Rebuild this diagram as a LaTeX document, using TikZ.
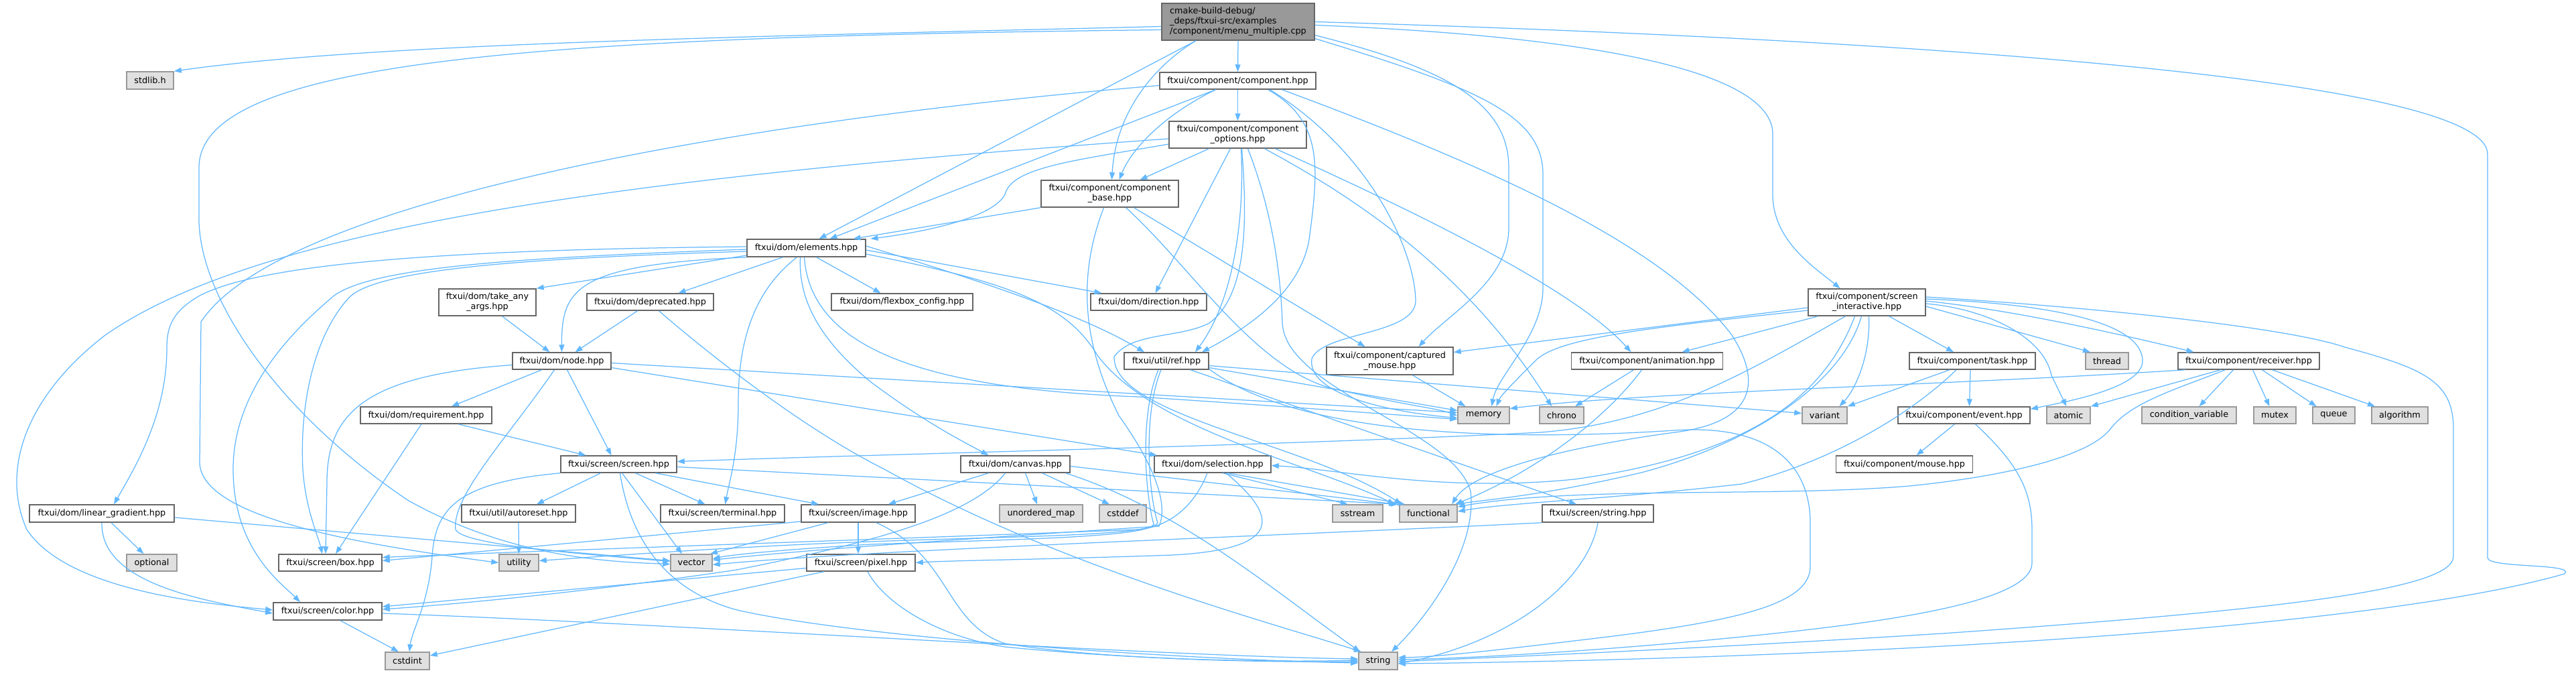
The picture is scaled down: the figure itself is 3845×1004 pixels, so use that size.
\documentclass[tikz,border=0pt]{standalone}
\usepackage{fontspec}
\setmainfont{DejaVu Sans}
\usetikzlibrary{arrows.meta}
\definecolor{eblue}{HTML}{63B8FF}
\definecolor{bdc}{HTML}{666666}
\definecolor{sysbd}{HTML}{999999}
\definecolor{sysfill}{HTML}{E0E0E0}
\definecolor{mainfill}{HTML}{999999}
\newcommand{\nfnt}{\fontsize{12.8pt}{15pt}\selectfont}
\tikzset{
  nd/.style={draw=bdc, fill=white, line width=1.5pt, inner sep=0pt, align=center, font=\nfnt, text=black},
  sys/.style={nd, draw=sysbd, fill=sysfill},
  edg/.style={draw=eblue, line width=1.25pt, -{Triangle[length=11pt,width=8pt]}},
}
\begin{document}
\begin{tikzpicture}[x=1pt,y=-1pt]
\useasboundingbox (0,0) rectangle (3845,1004);
% ---------- nodes ----------
\node[nd, fill=mainfill, align=left, minimum width=228pt, minimum height=55pt] (nmain) at (1848,32.5) {cmake-build-debug/\\\_deps/ftxui-src/examples\\/component/menu\_multiple.cpp};
\node[sys, minimum width=70pt, minimum height=26pt] (nstdlib) at (224,120) {stdlib.h};
\node[nd, minimum width=233pt, minimum height=25pt] (ncomp) at (1847.5,120.5) {ftxui/component/component.hpp};
\node[nd, minimum width=205pt, minimum height=40pt] (nopts) at (1847.5,201) {ftxui/component/component\\\_options.hpp};
\node[nd, minimum width=205pt, minimum height=40pt] (nbase) at (1656.5,289) {ftxui/component/component\\\_base.hpp};
\node[nd, minimum width=177pt, minimum height=26pt] (nelem) at (1203.5,370) {ftxui/dom/elements.hpp};
\node[nd, minimum width=145pt, minimum height=40pt] (ntake) at (727.5,451) {ftxui/dom/take\_any\\\_args.hpp};
\node[nd, minimum width=189pt, minimum height=25pt] (ndepr) at (970.5,450.5) {ftxui/dom/deprecated.hpp};
\node[nd, minimum width=211pt, minimum height=25pt] (nflex) at (1346.5,450.5) {ftxui/dom/flexbox\_config.hpp};
\node[nd, minimum width=173pt, minimum height=25pt] (ndir) at (1714.5,450.5) {ftxui/dom/direction.hpp};
\node[nd, minimum width=175pt, minimum height=40pt] (nsi) at (2786.5,451) {ftxui/component/screen\\\_interactive.hpp};
\node[nd, minimum width=189pt, minimum height=41pt] (ncapt) at (2074.5,538.5) {ftxui/component/captured\\\_mouse.hpp};
\node[nd, minimum width=126pt, minimum height=25pt] (nref) at (1741,538.5) {ftxui/util/ref.hpp};
\node[nd, minimum width=226pt, minimum height=25pt] (nanim) at (2458.5,538.5) {ftxui/component/animation.hpp};
\node[nd, minimum width=188pt, minimum height=25pt] (ntask) at (2944,538.5) {ftxui/component/task.hpp};
\node[sys, minimum width=64pt, minimum height=25pt] (nthrd) at (3145,538.5) {thread};
\node[nd, minimum width=211pt, minimum height=25pt] (nrecv) at (3356.5,538.5) {ftxui/component/receiver.hpp};
\node[nd, minimum width=147pt, minimum height=25pt] (nnode) at (838.5,538.5) {ftxui/dom/node.hpp};
\node[nd, minimum width=196pt, minimum height=25pt] (nreq) at (636,619.5) {ftxui/dom/requirement.hpp};
\node[sys, minimum width=77pt, minimum height=25pt] (nmem) at (2214.5,619.5) {memory};
\node[sys, minimum width=66pt, minimum height=25pt] (nchrono) at (2331,619.5) {chrono};
\node[sys, minimum width=67pt, minimum height=25pt] (nvariant) at (2723.5,619.5) {variant};
\node[nd, minimum width=197pt, minimum height=25pt] (nevent) at (2931.5,619.5) {ftxui/component/event.hpp};
\node[sys, minimum width=65pt, minimum height=25pt] (natomic) at (3087.5,619.5) {atomic};
\node[sys, minimum width=141pt, minimum height=25pt] (ncondv) at (3267.5,619.5) {condition\_variable};
\node[sys, minimum width=63pt, minimum height=25pt] (nmutex) at (3395.5,619.5) {mutex};
\node[sys, minimum width=63pt, minimum height=25pt] (nqueue) at (3483.5,619.5) {queue};
\node[sys, minimum width=84pt, minimum height=25pt] (nalgo) at (3582,619.5) {algorithm};
\node[nd, minimum width=173pt, minimum height=25pt] (nscr) at (923.5,692.5) {ftxui/screen/screen.hpp};
\node[nd, minimum width=163pt, minimum height=25pt] (ncanvas) at (1515.5,692.5) {ftxui/dom/canvas.hpp};
\node[nd, minimum width=174pt, minimum height=25pt] (nsel) at (1810,692.5) {ftxui/dom/selection.hpp};
\node[nd, minimum width=204pt, minimum height=25pt] (nmouse) at (2842.5,692.5) {ftxui/component/mouse.hpp};
\node[nd, minimum width=216pt, minimum height=26pt] (nlgrad) at (152,766) {ftxui/dom/linear\_gradient.hpp};
\node[nd, minimum width=170pt, minimum height=26pt] (nautor) at (774,766) {ftxui/util/autoreset.hpp};
\node[nd, minimum width=185pt, minimum height=26pt] (nterm) at (1078.5,766) {ftxui/screen/terminal.hpp};
\node[nd, minimum width=170pt, minimum height=26pt] (nimage) at (1281,766) {ftxui/screen/image.hpp};
\node[sys, minimum width=124pt, minimum height=26pt] (numap) at (1554,766) {unordered\_map};
\node[sys, minimum width=70pt, minimum height=26pt] (ncstddef) at (1676,766) {cstddef};
\node[sys, minimum width=75pt, minimum height=26pt] (nsstream) at (2026.5,766) {sstream};
\node[sys, minimum width=86pt, minimum height=26pt] (nfunc) at (2132,766) {functional};
\node[nd, minimum width=166pt, minimum height=26pt] (nstrh) at (2385,766) {ftxui/screen/string.hpp};
\node[sys, minimum width=75pt, minimum height=25pt] (noptional) at (226.5,839.5) {optional};
\node[nd, minimum width=154pt, minimum height=25pt] (nbox) at (493,839.5) {ftxui/screen/box.hpp};
\node[sys, minimum width=59pt, minimum height=25pt] (nutil) at (774.5,839.5) {utility};
\node[sys, minimum width=62pt, minimum height=25pt] (nvec) at (1032,839.5) {vector};
\node[nd, minimum width=162pt, minimum height=25pt] (npixel) at (1285,839.5) {ftxui/screen/pixel.hpp};
\node[nd, minimum width=162pt, minimum height=26pt] (ncolr) at (489,912) {ftxui/screen/color.hpp};
\node[sys, minimum width=66pt, minimum height=26pt] (ncstdint) at (608,986) {cstdint};
\node[sys, minimum width=58pt, minimum height=26pt] (nstrg) at (2057,986) {string};
% ---------- edges: main ----------
\draw[edg] ([yshift=-7pt]nmain.west) .. controls (1100,55) and (550,65) .. (nstdlib.north east);
\draw[edg] ([yshift=-12pt]nmain.west) .. controls (800,55) and (297,90) .. (297,250) -- (297,330) .. controls (300,450) and (420,620) .. (610,747) .. controls (760,830) and (900,838) .. ([yshift=-2pt]nvec.west);
\draw[edg] ([xshift=-63pt]nmain.south) -- ([xshift=19pt]nelem.north);
\draw[edg] (nmain.south) -- (ncomp.north);
\draw[edg] ([xshift=-63pt]nmain.south) .. controls (1720,100) and (1665,170) .. ([xshift=3pt]nbase.north);
\draw[edg] ([yshift=-20pt]nmain.east) .. controls (2150,100) and (2252,150) .. (2252,250) -- (2252,340) .. controls (2252,420) and (2160,470) .. ([xshift=43pt]ncapt.north);
\draw[edg] ([yshift=-25pt]nmain.east) .. controls (2200,130) and (2303,170) .. (2303,260) -- (2303,430) .. controls (2303,500) and (2235,560) .. ([xshift=12pt]nmem.north);
\draw[edg] ([yshift=-5pt]nmain.east) .. controls (2400,55) and (2646,110) .. (2646,200) -- (2646,290) .. controls (2646,360) and (2710,400) .. ([xshift=-40pt]nsi.north);
\draw[edg] (nmain.east) .. controls (2900,60) and (3713,120) .. (3713,230) -- (3713,832) .. controls (3713,848) and (3845,840) .. (3828,856) .. controls (3500,950) and (2600,985) .. ([yshift=-4pt]nstrg.east);
% ---------- component.hpp ----------
\draw[edg] ([yshift=-7pt]ncomp.west) .. controls (1100,180) and (420,300) .. (300,480) -- (298,690) .. controls (300,770) and (520,810) .. (nutil.west);
\draw[edg] ([xshift=-33pt]ncomp.south) -- ([xshift=35pt]nelem.north);
\draw[edg] ([xshift=-33pt]ncomp.south) .. controls (1740,170) and (1690,220) .. ([xshift=14pt]nbase.north);
\draw[edg] (ncomp.south) -- (nopts.north);
\draw[edg] ([xshift=45pt]ncomp.south) .. controls (1975,180) and (1968,250) .. (1955,350) .. controls (1945,440) and (1850,495) .. ([xshift=53pt]nref.north);
\draw[edg] ([xshift=48pt]ncomp.south) .. controls (2050,230) and (2113,380) .. (2113,450) .. controls (2110,500) and (1975,495) .. (1958,535) .. controls (1950,590) and (2080,615) .. ([yshift=-4pt]nmem.west);
\draw[edg] ([xshift=66pt]ncomp.south) .. controls (2200,240) and (2480,360) .. (2585,500) .. controls (2630,570) and (2620,630) .. (2500,645) .. controls (2350,665) and (2200,700) .. ([xshift=35pt]nfunc.north);
% ---------- component_options.hpp ----------
\draw[edg] ([yshift=-6pt]nopts.west) .. controls (1000,260) and (400,330) .. (157,500) .. controls (40,590) and (0,700) .. (40,790) .. controls (100,880) and (300,900) .. ([yshift=2pt]ncolr.west);
\draw[edg] ([yshift=-14pt]nopts.west) .. controls (1600,240) and (1510,250) .. (1500,290) .. controls (1480,330) and (1350,350) .. ([xshift=96pt]nelem.north);
\draw[edg] ([xshift=-43pt]nopts.south) -- ([xshift=45pt]nbase.north);
\draw[edg] ([xshift=-11pt]nopts.south) -- ([xshift=10pt]ndir.north);
\draw[edg] ([xshift=5pt]nopts.south) .. controls (1858,330) and (1840,450) .. ([xshift=43pt]nref.north);
\draw[edg] ([xshift=6pt]nopts.south) .. controls (1862,330) and (1862,440) .. (1805,482) .. controls (1760,505) and (1690,495) .. (1663,532) .. controls (1660,620) and (1950,660) .. ([xshift=-40pt]nfunc.north);
\draw[edg] ([xshift=15pt]nopts.south) .. controls (1905,330) and (1912,430) .. (1914,480) .. controls (1915,580) and (2170,640) .. (2195,733) .. controls (2205,820) and (2130,920) .. ([xshift=20pt]nstrg.north);
\draw[edg] ([xshift=40pt]nopts.south) .. controls (2046,307) and (2200,420) .. ([xshift=-15pt]nchrono.north);
\draw[edg] ([xshift=56pt]nopts.south) .. controls (2100,310) and (2350,430) .. ([xshift=-24pt]nanim.north);
% ---------- component_base.hpp ----------
\draw[edg] (nbase.south west) -- ([xshift=70pt]nelem.north);
\draw[edg] ([xshift=-9pt]nbase.south) .. controls (1605,420) and (1620,520) .. (1670,620) .. controls (1720,690) and (1745,750) .. (1730,785) .. controls (1500,800) and (1200,820) .. ([yshift=4pt]nvec.east);
\draw[edg] ([xshift=24pt]nbase.south) .. controls (1780,400) and (1880,560) .. (2000,582) .. controls (2100,605) and (2150,610) .. ([yshift=-1pt]nmem.west);
\draw[edg] ([xshift=36pt]nbase.south) -- ([xshift=-37pt]ncapt.north);
% ---------- elements.hpp ----------
\draw[edg] ([yshift=2pt]nelem.west) .. controls (700,372) and (400,390) .. (300,440) .. controls (255,465) and (249,490) .. (249,520) .. controls (249,620) and (200,700) .. ([xshift=18pt]nlgrad.north);
\draw[edg] ([yshift=-2pt]nelem.west) .. controls (750,385) and (560,400) .. (500,440) .. controls (440,490) and (348,580) .. (348,700) .. controls (348,820) and (420,870) .. ([xshift=-41pt]ncolr.north);
\draw[edg] ([yshift=-5pt]nelem.west) .. controls (800,385) and (560,400) .. (520,445) .. controls (470,500) and (447,600) .. (452,700) .. controls (456,760) and (475,800) .. ([xshift=-12pt]nbox.north);
\draw[edg] (nelem.south west) .. controls (860,395) and (838,430) .. (nnode.north);
\draw[edg] ([yshift=-11pt]nelem.west) -- (ntake.north east);
\draw[edg] ([xshift=-35pt]nelem.south) -- ([xshift=42pt]ndepr.north);
\draw[edg] ([xshift=-14pt]nelem.south) .. controls (1130,430) and (1102,500) .. (1102,600) .. controls (1102,680) and (1088,720) .. ([xshift=4pt]nterm.north);
\draw[edg] ([xshift=-9pt]nelem.south) .. controls (1192,440) and (1215,500) .. (1300,570) .. controls (1380,630) and (1440,660) .. ([xshift=-40pt]ncanvas.north);
\draw[edg] ([xshift=-3pt]nelem.south) .. controls (1210,520) and (1380,580) .. (1700,592) .. controls (1900,605) and (2100,620) .. ([yshift=-6pt]nmem.west);
\draw[edg] ([xshift=15pt]nelem.south) -- ([xshift=-32pt]nflex.north);
\draw[edg] ([yshift=3pt]nelem.east) .. controls (1400,400) and (1600,460) .. ([xshift=-33pt]nref.north);
\draw[edg] ([yshift=-3pt]nelem.east) -- ([xshift=-70pt]ndir.north);
\draw[edg] ([yshift=-9pt]nelem.east) .. controls (1500,420) and (1590,450) .. (1638,530) .. controls (1720,640) and (1950,690) .. ([xshift=-50pt]nfunc.north);
% ---------- take_any_args / deprecated ----------
\draw[edg] ([xshift=22pt]ntake.south) -- ([xshift=-18pt]nnode.north);
\draw[edg] ([xshift=-19pt]ndepr.south) -- ([xshift=20pt]nnode.north);
\draw[edg] ([xshift=13pt]ndepr.south) .. controls (1060,530) and (1200,640) .. (1320,700) .. controls (1580,845) and (1900,930) .. ([xshift=-25pt]nstrg.north);
% ---------- node.hpp ----------
\draw[edg] ([yshift=-6pt]nnode.west) .. controls (540,560) and (488,620) .. (488,720) -- ([xshift=-7pt]nbox.north);
\draw[edg] ([xshift=-30pt]nnode.south) -- ([xshift=38pt]nreq.north);
\draw[edg] ([xshift=-11pt]nnode.south) .. controls (760,650) and (674,740) .. (680,790) .. controls (690,812) and (850,825) .. ([yshift=2pt]nvec.west);
\draw[edg] ([xshift=8pt]nnode.south) -- ([xshift=-11pt]nscr.north);
\draw[edg] ([yshift=-3pt]nnode.east) -- ([yshift=4pt]nmem.west);
\draw[edg] ([yshift=-10pt]nnode.east) -- ([xshift=-83pt]nsel.north);
% ---------- requirement.hpp ----------
\draw[edg] ([xshift=-7pt]nreq.south) -- ([xshift=8pt]nbox.north);
\draw[edg] ([xshift=48pt]nreq.south) -- ([xshift=-49pt]nscr.north);
% ---------- screen.hpp ----------
\draw[edg] (nscr.south west) .. controls (680,720) and (650,760) .. (645,830) .. controls (640,900) and (615,940) .. ([xshift=3pt]ncstdint.north);
\draw[edg] ([xshift=-27pt]nscr.south) -- ([xshift=27pt]nautor.north);
\draw[edg] ([xshift=5pt]nscr.south) -- ([xshift=-14pt]nvec.north);
\draw[edg] ([xshift=2pt]nscr.south) .. controls (940,800) and (990,880) .. (1100,910) .. controls (1300,955) and (1800,985) .. ([yshift=-3pt]nstrg.west);
\draw[edg] ([xshift=25pt]nscr.south) -- ([xshift=-26pt]nterm.north);
\draw[edg] ([xshift=55pt]nscr.south) -- ([xshift=-59pt]nimage.north);
\draw[edg] ([yshift=-4pt]nscr.east) -- ([xshift=-45pt]nfunc.north);
% ---------- autoreset / linear_gradient ----------
\draw[edg] (nautor.south) -- (nutil.north);
\draw[edg] ([xshift=14pt]nlgrad.south) -- ([xshift=-12pt]noptional.north);
\draw[edg] (nlgrad.south) .. controls (150,870) and (300,895) .. ([yshift=-3pt]ncolr.west);
\draw[edg] ([yshift=-6pt]nlgrad.east) -- ([yshift=3pt]nvec.west);
% ---------- image.hpp ----------
\draw[edg] ([yshift=-12pt]nimage.west) -- ([yshift=3pt]nbox.east);
\draw[edg] ([xshift=-45pt]nimage.south) -- ([xshift=28pt]nvec.north);
\draw[edg] (nimage.south) -- ([xshift=-4pt]npixel.north);
\draw[edg] ([xshift=27pt]nimage.south) .. controls (1420,830) and (1410,930) .. (1500,960) .. controls (1650,985) and (1900,988) .. ([yshift=-1pt]nstrg.west);
% ---------- pixel.hpp ----------
\draw[edg] ([yshift=-8pt]npixel.west) -- ([yshift=7pt]ncolr.east);
\draw[edg] ([xshift=-55pt]npixel.south) -- ([yshift=8pt]ncstdint.east);
\draw[edg] ([xshift=10pt]npixel.south) .. controls (1320,900) and (1400,950) .. (1500,965) .. controls (1700,985) and (1900,988) .. ([yshift=1pt]nstrg.west);
% ---------- color.hpp ----------
\draw[edg] ([xshift=19pt]ncolr.south) -- ([xshift=-13pt]ncstdint.north);
\draw[edg] ([yshift=-3pt]ncolr.east) .. controls (1000,930) and (1700,978) .. ([yshift=3pt]nstrg.west);
% ---------- canvas.hpp ----------
\draw[edg] ([xshift=-40pt]ncanvas.south) -- ([xshift=45pt]nimage.north);
\draw[edg] ([xshift=-15pt]ncanvas.south) .. controls (1450,770) and (1300,810) .. (1100,850) .. controls (900,880) and (700,900) .. ([yshift=3pt]ncolr.east);
\draw[edg] ([xshift=15pt]ncanvas.south) -- ([xshift=-6pt]numap.north);
\draw[edg] ([xshift=40pt]ncanvas.south) -- ([xshift=-20pt]ncstddef.north);
\draw[edg] ([xshift=75pt]ncanvas.south) .. controls (1760,760) and (1900,880) .. ([xshift=-27pt]nstrg.north);
\draw[edg] ([yshift=-3pt]ncanvas.east) -- ([xshift=-48pt]nfunc.north);
% ---------- selection.hpp ----------
\draw[edg] ([xshift=-8pt]nsel.south) .. controls (1785,750) and (1750,785) .. (1700,790) .. controls (1300,805) and (800,822) .. ([yshift=8pt]nbox.east);
\draw[edg] ([xshift=15pt]nsel.south) -- ([xshift=-15pt]nsstream.north);
\draw[edg] ([xshift=22pt]nsel.south) -- ([xshift=-35pt]nfunc.north);
\draw[edg] ([xshift=20pt]nsel.south) .. controls (1920,780) and (1900,820) .. (1750,828) .. controls (1550,835) and (1420,836) .. (npixel.east);
% ---------- string.hpp ----------
\draw[edg] (nstrh.south) .. controls (2370,870) and (2250,960) .. ([yshift=-4pt]nstrg.east);
\draw[edg] (nstrh.south west) .. controls (1900,800) and (1300,820) .. ([yshift=-3pt]nvec.east);
% ---------- ref.hpp ----------
\draw[edg] ([xshift=-8pt]nref.south) .. controls (1705,620) and (1715,740) .. (1728,780) .. controls (1720,800) and (1500,800) .. (1300,808) .. controls (1100,815) and (900,830) .. ([yshift=3pt]nutil.east);
\draw[edg] ([xshift=-12pt]nref.south) .. controls (1700,620) and (1710,740) .. (1722,782) .. controls (1715,802) and (1500,805) .. (1300,812) .. controls (1200,818) and (1100,826) .. ([yshift=6pt]nvec.east);
\draw[edg] ([xshift=36pt]nref.south) -- ([xshift=-32pt]nstrh.north);
\draw[edg] ([yshift=-7pt]nref.east) -- ([yshift=3pt]nvariant.west);
\draw[edg] ([yshift=-10pt]nref.east) -- ([yshift=7pt]nmem.west);
\draw[edg] ([yshift=-12pt]nref.east) .. controls (1950,660) and (2300,655) .. (2500,642) .. controls (2650,632) and (2702,700) .. (2702,780) -- (2702,845) .. controls (2702,900) and (2600,925) .. (2400,950) .. controls (2250,968) and (2150,980) .. ([yshift=5pt]nstrg.east);
% ---------- captured / animation ----------
\draw[edg] ([xshift=34pt]ncapt.south) -- ([xshift=-27pt]nmem.north);
\draw[edg] ([xshift=-20pt]nanim.south) -- ([xshift=20pt]nchrono.north);
\draw[edg] ([xshift=-8pt]nanim.south) .. controls (2400,620) and (2300,700) .. ([xshift=40pt]nfunc.north);
% ---------- task ----------
\draw[edg] ([xshift=-34pt]ntask.south) -- (nvariant.north east);
\draw[edg] ([xshift=-24pt]ntask.south) .. controls (2850,620) and (2730,690) .. (2600,722) .. controls (2400,745) and (2250,750) .. ([yshift=3pt]nfunc.east);
\draw[edg] ([xshift=-3pt]ntask.south) -- ([xshift=8pt]nevent.north);
% ---------- event ----------
\draw[edg] ([xshift=-14pt]nevent.south) -- ([xshift=18pt]nmouse.north);
\draw[edg] ([xshift=17pt]nevent.south) .. controls (3010,690) and (3033,730) .. (3033,790) -- (3033,840) .. controls (3033,900) and (2800,930) .. (2600,950) .. controls (2400,970) and (2200,982) .. ([yshift=2pt]nstrg.east);
% ---------- receiver ----------
\draw[edg] ([xshift=-95pt]nrecv.south) .. controls (2900,575) and (2450,585) .. ([yshift=10pt]nmem.east);
\draw[edg] ([xshift=-42pt]nrecv.south) -- (natomic.north east);
\draw[edg] ([xshift=-35pt]nrecv.south) .. controls (3250,580) and (3180,600) .. (3150,640) .. controls (3110,690) and (2950,715) .. (2850,725) .. controls (2650,742) and (2350,725) .. ([yshift=10pt]nfunc.east);
\draw[edg] ([xshift=-23pt]nrecv.south) -- ([xshift=15pt]ncondv.north);
\draw[edg] ([xshift=6pt]nrecv.south) -- ([xshift=-8pt]nmutex.north);
\draw[edg] ([xshift=20pt]nrecv.south) -- ([xshift=-26pt]nqueue.north);
\draw[edg] ([xshift=35pt]nrecv.south) -- ([xshift=-37pt]nalgo.north);
% ---------- screen_interactive ----------
\draw[edg] ([yshift=-8pt]nsi.west) -- ([yshift=13pt]ncapt.east);
\draw[edg] ([yshift=-12pt]nsi.west) .. controls (2450,490) and (2320,505) .. (2290,540) .. controls (2260,570) and (2240,590) .. ([xshift=19pt]nmem.north);
\draw[edg] ([xshift=-73pt]nsi.south) -- ([xshift=52pt]nanim.north);
\draw[edg] ([xshift=-32pt]nsi.south) .. controls (2600,560) and (2480,630) .. (2300,645) .. controls (1900,665) and (1400,675) .. ([yshift=4pt]nscr.east);
\draw[edg] ([xshift=-18pt]nsi.south) .. controls (2720,600) and (2600,680) .. (2350,715) .. controls (2150,735) and (2000,700) .. ([yshift=-2pt]nsel.east);
\draw[edg] ([xshift=-8pt]nsi.south) .. controls (2750,570) and (2620,660) .. (2450,705) .. controls (2300,740) and (2220,745) .. ([xshift=42pt]nfunc.north);
\draw[edg] ([xshift=3pt]nsi.south) .. controls (2792,530) and (2770,580) .. ([xshift=22pt]nvariant.north);
\draw[edg] ([xshift=33pt]nsi.south) -- ([xshift=-28pt]ntask.north);
\draw[edg] ([yshift=-6pt]nsi.east) -- ([xshift=-25pt]nthrd.north);
\draw[edg] ([yshift=-2pt]nsi.east) .. controls (2960,460) and (3050,500) .. (3062,560) -- ([xshift=-3pt]natomic.north);
\draw[edg] ([yshift=2pt]nsi.east) .. controls (3000,462) and (3150,495) .. ([xshift=-82pt]nrecv.north);
\draw[edg] ([yshift=5pt]nsi.east) .. controls (3100,455) and (3200,490) .. (3198,540) .. controls (3195,580) and (3080,600) .. ([yshift=-4pt]nevent.north east);
\draw[edg] ([yshift=8pt]nsi.east) .. controls (3150,460) and (3420,490) .. (3500,518) .. controls (3620,550) and (3662,570) .. (3662,640) -- (3662,830) .. controls (3662,880) and (3400,910) .. (2900,945) .. controls (2500,970) and (2200,982) .. ([yshift=-1pt]nstrg.east);
\end{tikzpicture}
\end{document}
